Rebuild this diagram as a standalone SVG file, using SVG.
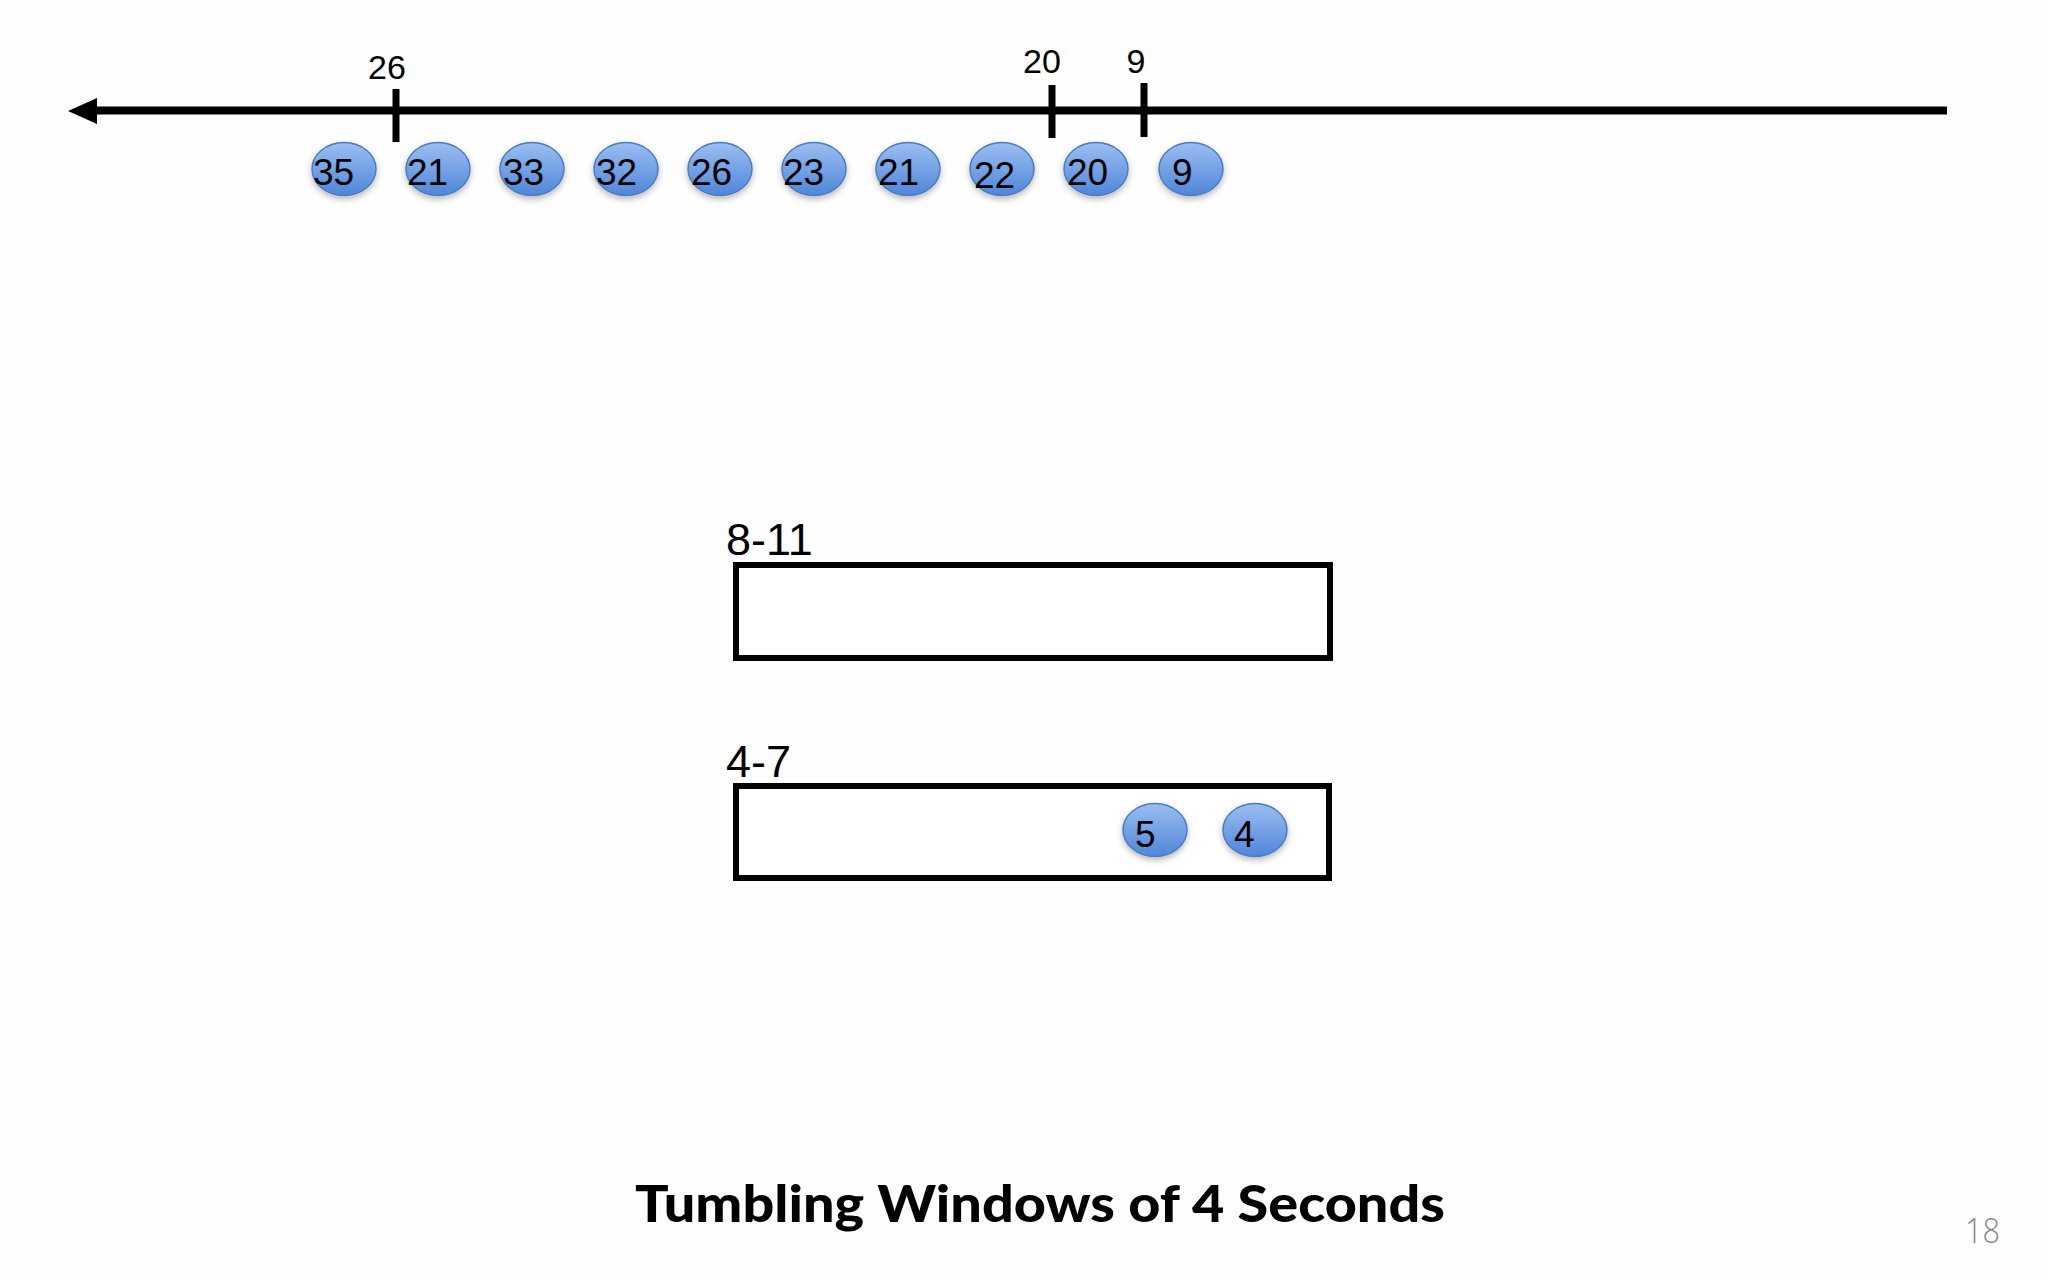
<svg xmlns="http://www.w3.org/2000/svg" width="2048" height="1280" viewBox="0 0 2048 1280">
<defs>
<linearGradient id="ballFill" x1="0" y1="0" x2="0" y2="1">
<stop offset="0" stop-color="#9BBEF2"/>
<stop offset="1" stop-color="#4F86D8"/>
</linearGradient>
<filter id="shadow" x="-30%" y="-30%" width="160%" height="170%">
<feDropShadow dx="0" dy="3" stdDeviation="3" flood-color="#000" flood-opacity="0.28"/>
</filter>
<style>
.ball{fill:url(#ballFill);stroke:#4A7CC0;stroke-width:1.5;filter:url(#shadow)}
.bt{font-family:"Liberation Sans",Arial,sans-serif;font-size:37px;fill:#000}
.tl{font-family:"Liberation Sans",Arial,sans-serif;font-size:34px;fill:#000;text-anchor:middle}
.wl{font-family:"Liberation Sans",Arial,sans-serif;font-size:45px;fill:#000}
.win{fill:#fff;stroke:#000;stroke-width:6}
.tick{stroke:#000;stroke-width:7}
</style>
</defs>
<rect x="0" y="0" width="2048" height="1280" fill="#fefefe"/>

<g id="connectors">
<line x1="94" y1="110.5" x2="1947" y2="110.5" stroke="#000" stroke-width="8"/>
<polygon points="68,111 97,98 97,124" fill="#000"/>
<line class="tick" x1="396" y1="89" x2="396" y2="142"/>
<line class="tick" x1="1052" y1="85" x2="1052" y2="138"/>
<line class="tick" x1="1144" y1="83" x2="1144" y2="137"/>
<text class="tl" x="387" y="79">26</text>
<text class="tl" x="1042" y="73">20</text>
<text class="tl" x="1136" y="73">9</text>
</g>

<g id="e35"><ellipse class="ball" cx="344" cy="169" rx="32" ry="26.5"/><text class="bt" x="313" y="185">35</text></g>
<g id="e21a"><ellipse class="ball" cx="438" cy="169" rx="32" ry="26.5"/><text class="bt" x="407" y="185">21</text></g>
<g id="e33"><ellipse class="ball" cx="532" cy="169" rx="32" ry="26.5"/><text class="bt" x="503" y="185">33</text></g>
<g id="e32"><ellipse class="ball" cx="626" cy="169" rx="32" ry="26.5"/><text class="bt" x="596" y="185">32</text></g>
<g id="e26"><ellipse class="ball" cx="720" cy="169" rx="32" ry="26.5"/><text class="bt" x="691" y="185">26</text></g>
<g id="e23"><ellipse class="ball" cx="814" cy="169" rx="32" ry="26.5"/><text class="bt" x="783" y="185">23</text></g>
<g id="e21b"><ellipse class="ball" cx="908" cy="169" rx="32" ry="26.5"/><text class="bt" x="878" y="185">21</text></g>
<g id="e22"><ellipse class="ball" cx="1002" cy="169" rx="32" ry="26.5"/><text class="bt" x="974" y="187.5">22</text></g>
<g id="e20"><ellipse class="ball" cx="1096" cy="169" rx="32" ry="26.5"/><text class="bt" x="1067" y="185">20</text></g>
<g id="e9"><ellipse class="ball" cx="1191" cy="169" rx="32" ry="26.5"/><text class="bt" x="1172" y="185">9</text></g>

<g id="window-8-11">
<text class="wl" x="726" y="555">8-11</text>
<rect class="win" x="736" y="565" width="594" height="93"/>
</g>

<g id="window-4-7">
<text class="wl" x="726" y="777">4-7</text>
<rect class="win" x="736" y="786" width="593" height="92"/>
</g>

<g id="e5"><ellipse class="ball" cx="1155" cy="830" rx="32" ry="26.5"/><text class="bt" x="1135" y="847">5</text></g>
<g id="e4"><ellipse class="ball" cx="1255" cy="830" rx="32" ry="26.5"/><text class="bt" x="1234" y="847">4</text></g>

<g id="title">
<text x="635" y="1222" font-family="Lato,'Liberation Sans',sans-serif" font-weight="900" font-size="52" textLength="810" lengthAdjust="spacingAndGlyphs" fill="#000">Tumbling Windows of 4 Seconds</text>
</g>
<g id="page-number">
<text x="1965" y="1243" font-family="'Open Sans','Liberation Sans',sans-serif" font-weight="300" font-size="35" textLength="35" lengthAdjust="spacingAndGlyphs" fill="#888888">18</text>
</g>
</svg>
